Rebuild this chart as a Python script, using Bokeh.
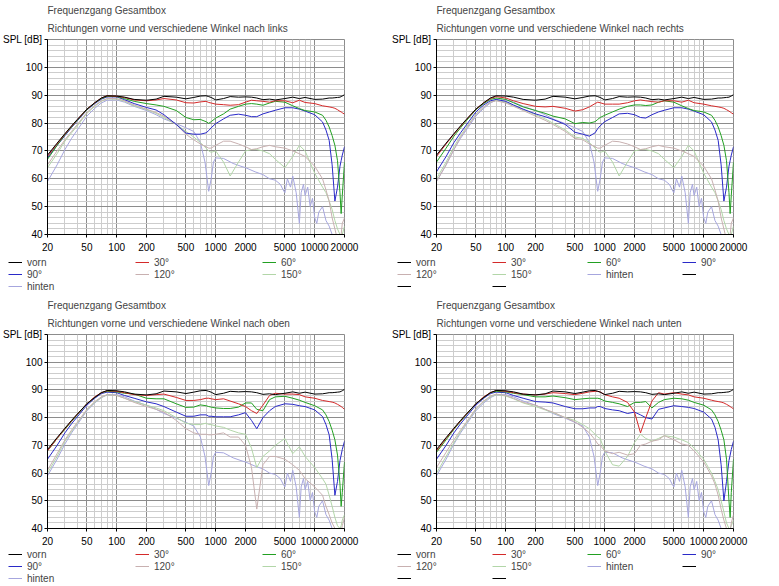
from bokeh.core.properties import value
from bokeh.embed import file_html
from bokeh.layouts import column, row
from bokeh.models import FixedTicker, Legend, LegendItem, PrintfTickFormatter, Title
from bokeh.plotting import figure
from bokeh.resources import INLINE

FONT = "Liberation Sans"
FS = "10px"

# measuring frequencies [Hz]
F = [20, 25, 30, 35, 40, 50, 60, 70, 80, 100,
     120, 150, 200, 250, 300, 400, 500, 600, 700, 800,
     850, 900, 1000, 1200, 1400, 1700, 2000, 2300, 2600, 3000,
     3500, 4000, 5000, 6000, 7000, 8000, 10000, 12000, 13000, 14000,
     15000, 16000, 17000, 18000, 18500, 19000, 20000]

F_HINTEN = [20, 25, 30, 35, 40, 50, 60, 70, 80, 100,
            120, 150, 200, 250, 300, 400, 500, 600, 700, 780,
            850, 900, 950, 1000, 1200, 1500, 1800, 2000, 2500, 3000,
            3500, 4000, 4500, 4800, 5000, 5300, 5700, 6000, 6500, 7000,
            7300, 7700, 8000, 8500, 9000, 9500, 10000, 10500, 11000, 12000,
            13000, 14000, 15000, 16000, 17000, 18000, 20000]

# SPL [dB], same for all four charts
VORN = [68.5, 72.8, 76.2, 79.0, 81.3, 85.0, 87.3, 89.0, 89.8, 89.7,
        89.3, 88.5, 88.2, 88.6, 89.6, 89.3, 88.7, 89.2, 89.7, 89.8,
        89.5, 89.2, 88.3, 88.8, 89.5, 89.3, 89.4, 89.3, 89.0, 88.4,
        88.6, 88.3, 88.8, 89.3, 88.8, 89.2, 88.5, 88.6, 88.8, 89.0,
        89.0, 89.1, 89.2, 89.3, 89.5, 89.7, 90.2]

HINTEN = [59, 65, 70.5, 74.5, 77.5, 82.5, 85.3, 87.2, 88.2, 88.3,
          87.5, 86, 84.5, 83, 81.5, 79.8, 78.3, 77, 73, 66,
          55.5, 60, 66, 67.5, 67.3, 65.5, 64.5, 64, 62.5, 61.5,
          60, 59.5, 58, 56, 55, 60, 57, 61, 55, 44,
          55, 58, 54, 57, 50, 53, 46, 44, 48, 50,
          45, 43, 40, 38, 36, 35, 35]

# nach links
LINKS_30 = [68, 72.5, 76, 78.8, 81.2, 85, 87.3, 89, 89.8, 89.6,
            89.2, 88.3, 88, 88.3, 88.8, 88.3, 87.3, 87.2, 87.6, 87.8,
            87.4, 87.2, 86.8, 86.6, 86.4, 86.6, 87.5, 88.2, 88, 87.8,
            87.5, 88, 88, 87.3, 88.2, 87.4, 87, 86.2, 86, 85.8,
            85.6, 85.3, 84.8, 84.2, 84, 83.7, 83.2]
LINKS_60 = [67, 72, 75.8, 78.6, 81, 84.8, 87.2, 88.8, 89.6, 89.5,
            88.8, 87.8, 87, 86.5, 86, 84.5, 82, 81.2, 81.3, 80.5,
            79.9, 80.5, 81.8, 83.3, 85, 86, 86.8, 87, 86.8, 86.4,
            87.2, 87.8, 87.5, 86.2, 85.2, 84.5, 84, 82.8, 81, 78.6,
            75.5, 72, 66.5, 55, 47.5, 54, 66]
LINKS_90 = [67.5, 72, 75.5, 78.4, 80.8, 84.7, 87, 88.6, 89.4, 89.4,
            88.4, 87, 85.6, 84.7, 83, 79.5, 76.4, 76, 76, 76.5,
            77.3, 78.3, 79.8, 81.5, 82.8, 83.2, 82.8, 82.3, 82.3, 83.3,
            84, 84.6, 85.5, 85.5, 85, 84.3, 83, 80.4, 77.5, 73.8,
            65, 52, 57, 64.5, 66.5, 68.5, 71.5]
LINKS_120 = [65, 70, 74, 77, 79.5, 83.8, 86.3, 88, 88.8, 88.8,
             88, 86.5, 85, 83.8, 82.5, 79.5, 76, 74, 72.5, 71.5,
             71, 71, 72, 73.5, 73.5, 72.5, 71.5, 70.5, 70.8, 71.5,
             72, 71.5, 71, 70, 69, 68, 64.5, 60, 56, 52,
             46, 42, 38, 37, 40, 44, 46]
LINKS_150 = [64, 69, 73.5, 76.5, 79, 83.5, 86, 87.8, 88.7, 88.6,
             87.8, 86.2, 84.8, 83.5, 82, 79.5, 77, 75, 73, 71,
             70, 69.5, 70, 66, 61, 66, 70, 70.5, 70.5, 70,
             69, 67, 64, 68, 72, 70, 62, 57, 55, 52,
             49, 45, 42, 40, 39, 40, 43]

# nach rechts
RECHTS_30 = [68, 72.5, 76, 78.8, 81.2, 85, 87.3, 88.8, 89.5, 89,
             88, 87, 86, 85.8, 86, 85.3, 84.3, 84.8, 85.8, 87,
             87.5, 87.3, 86.8, 86.8, 86.8, 87.3, 88, 88.3, 88, 87.7,
             87.5, 88, 88, 87.5, 88.2, 87.3, 86.8, 86.2, 86, 85.8,
             85.6, 85.3, 84.8, 84.3, 84, 83.7, 83.2]
RECHTS_60 = [66, 71, 75.3, 78.3, 80.8, 84.8, 87, 88.5, 89, 88.5,
             87.3, 85.8, 84.5, 83.5, 82.5, 81.5, 79.8, 80.2, 80, 80.5,
             81.3, 82, 82.8, 84, 85, 86, 86.5, 86.5, 86.3, 86.5,
             87.5, 88, 87.5, 86.2, 85.2, 84.5, 84, 82.8, 81, 78.6,
             75.5, 72, 66.5, 55, 47.5, 54, 66]
RECHTS_90 = [62.5, 68, 73, 76.5, 79.3, 84, 86.5, 88, 88.5, 87.8,
             86.5, 85, 83.3, 82.3, 81.3, 79.5, 76.7, 76, 75.3, 76.5,
             78, 79, 80.5, 82, 83.3, 83.5, 83, 82, 81.8, 83,
             84, 84.6, 85.5, 85.5, 85, 84.3, 83, 80.4, 77.5, 73.8,
             65, 52, 57, 64.5, 66.5, 68.5, 71.5]
RECHTS_120 = [59, 65, 70.5, 75, 78, 83, 85.8, 87.5, 88, 87.2,
              86, 84.5, 82.5, 81, 79.5, 77, 74.5, 74, 72.5, 71.5,
              71, 71, 72, 73.5, 73.3, 72.5, 71.5, 70.5, 70.8, 71.5,
              72, 71.5, 71, 70, 69, 68, 64.5, 60, 56, 52,
              46, 42, 38, 37, 40, 44, 46]
RECHTS_150 = [60, 66, 71.5, 75.5, 78.5, 83.2, 85.8, 87.5, 88.2, 87.5,
              86.3, 84.8, 83, 81.5, 80, 77.5, 75, 74.5, 73, 71,
              70, 69.5, 70, 66, 61, 66, 70, 70.5, 70.5, 70,
              69, 67, 64, 68, 72, 70, 62, 57, 55, 52,
              49, 45, 42, 40, 39, 40, 43]

# nach oben
OBEN_30 = [68, 72.5, 76, 78.8, 81.2, 85, 87.5, 89, 89.7, 89.5,
           89, 88.3, 88, 88.3, 88.5, 87.3, 86.2, 86.2, 86.5, 87,
           87, 86.8, 86.5, 86.8, 86, 85, 84, 82.5, 81.5, 84.5,
           88, 88.8, 88.5, 88.5, 88.3, 87.5, 87, 86.2, 86, 85.8,
           85.6, 85.3, 84.8, 84.3, 84, 83.7, 83]
OBEN_60 = [68, 72.5, 75.8, 78.6, 81, 85, 87.3, 89, 89.5, 89.3,
           88.8, 88.5, 87, 86.8, 86.8, 85, 83.7, 83.8, 84.6, 84.3,
           84, 83.8, 83.5, 83.3, 83.3, 83.8, 85.3, 85.3, 83, 82.5,
           86.5, 87.5, 87.7, 87, 86.3, 85.5, 84.3, 82.8, 81, 78.6,
           75.5, 72, 66.5, 56, 48, 53, 64]
OBEN_90 = [65, 70, 74.5, 77.8, 80.3, 84.5, 87, 88.7, 89.2, 89,
           88, 87, 85.7, 85, 84, 82, 80.5, 80.5, 81, 81,
           80.5, 80.5, 80.3, 80.3, 80.3, 81, 81.8, 79, 76, 80,
           82.5, 84, 85, 84.8, 84.3, 84, 82.8, 80.4, 77.5, 73.8,
           65, 52, 57, 64.5, 66.5, 68.5, 71.5]
OBEN_120 = [61, 67, 72, 75.5, 78.3, 83, 85.8, 87.5, 88.3, 88,
            87, 85.5, 84, 83, 82, 79, 76, 74.5, 74, 74,
            73.8, 73.8, 74, 74.5, 73, 73, 70, 62, 47, 63,
            66, 66, 65, 63, 61, 58, 55, 52, 48, 45,
            42, 40, 38, 37, 39, 41, 44]
OBEN_150 = [60, 66, 71.5, 75, 78, 82.8, 85.5, 87.3, 88.2, 88,
            87, 85.8, 84.5, 83.5, 82.5, 80, 78, 77.5, 77.5, 78,
            77.5, 77.5, 77, 76.5, 75.5, 74.5, 74, 69, 62, 66,
            68, 70, 72.5, 67, 69.5, 66, 62, 58, 56, 52,
            48, 44, 41, 40, 41, 43, 45]

# nach unten
UNTEN_30 = [68, 72.5, 76, 78.8, 81.2, 85, 87.5, 89, 89.8, 89.5,
            89, 88.5, 88.2, 88.5, 89, 88.7, 88.3, 88.8, 89.3, 89.5,
            89.5, 89.3, 88.3, 87.5, 87, 85.5, 82, 74.5, 80, 86,
            89, 88.5, 89, 88.5, 88.2, 87.5, 87, 86.3, 86, 85.8,
            85.6, 85.3, 84.8, 84.3, 84, 83.7, 83.2]
UNTEN_60 = [67.5, 72, 75.8, 78.6, 81, 85, 87.3, 89, 89.5, 89.3,
            88.8, 88.3, 87.5, 87.5, 87.8, 87.2, 86.5, 86.8, 87, 87,
            87, 86.8, 86, 85.5, 85, 84, 85.5, 85.5, 85.8, 83.5,
            85.5, 86.5, 87, 86.8, 86.3, 85.5, 84.5, 82.8, 81, 78.6,
            75.5, 72, 65, 50, 44, 53, 65]
UNTEN_90 = [65, 70, 74.5, 77.8, 80.3, 84.5, 87, 88.7, 89.2, 89,
            88, 87, 85.8, 85.6, 85.3, 84, 83.2, 83.2, 83.5, 83.5,
            84, 84, 83.3, 82.8, 82.5, 81.5, 82, 81, 80, 79.5,
            83, 83.5, 84.3, 84, 83.7, 83.3, 82, 79.5, 76.5, 72,
            63, 50, 57, 64.5, 66.5, 68.5, 71.5]
UNTEN_120 = [62, 67.5, 72, 75.5, 78.3, 83.3, 86, 87.8, 88.5, 88,
             87, 85.5, 84.5, 83, 82, 80, 78.5, 76.5, 74.5, 72,
             70.5, 70, 68, 67, 67.5, 66.5, 67, 70, 70.5, 71.5,
             72, 73.5, 72, 70.5, 70, 68, 64, 59, 56, 52,
             47, 43, 40, 38, 39, 42, 45]
UNTEN_150 = [60, 66, 71, 75, 78, 83, 85.8, 87.5, 88.3, 87.8,
             86.8, 85.3, 84, 82.8, 81.8, 80, 79, 77.5, 76, 74,
             73, 72.5, 68, 63, 62.5, 66, 71, 74, 72.5, 71.5,
             72.5, 73.5, 73, 72, 71, 69, 65, 60, 57, 54,
             50, 46, 42, 40, 40, 41, 43]

LABELS = ["vorn", "30°", "60°", "90°", "120°", "150°", "hinten"]
COLORS = ["#000000", "#d42a2a", "#22a022", "#2a2ac8", "#c8b0b0", "#b2d6a8", "#a6a6de"]

X_TICKS = [20, 50, 100, 200, 500, 1000, 2000, 5000, 10000, 20000]
X_MINOR = [30, 40, 60, 70, 80, 90, 300, 400, 600, 700, 800, 900,
           3000, 4000, 6000, 7000, 8000, 9000]
Y_TICKS = [40, 50, 60, 70, 80, 90, 100, 110]
Y_MINOR = [v for v in range(42, 110, 2) if v % 10]

HEADER = "Frequenzgang Gesamtbox"
W = 389


def make_chart(subtitle, curves, height, frame_h):
    p = figure(width=W, height=height, x_axis_type="log",
               x_range=(20, 20000), y_range=(40, 110),
               output_backend="svg", toolbar_location=None,
               min_border_left=46, min_border_right=W - 46 - 298,
               min_border_top=39, min_border_bottom=height - 39 - frame_h)
    p.outline_line_color = "#8c8c8c"

    p.title.text = HEADER
    p.title.text_font = FONT
    p.title.text_font_size = FS
    p.title.text_font_style = "normal"
    p.title.standoff = 0
    p.add_layout(Title(text=subtitle, text_font=FONT, text_font_size=FS,
                       text_font_style="normal", standoff=11), "above")

    p.xaxis.ticker = FixedTicker(ticks=X_TICKS, minor_ticks=X_MINOR)
    p.xaxis.formatter = PrintfTickFormatter(format="%d")
    p.yaxis.ticker = FixedTicker(ticks=Y_TICKS, minor_ticks=Y_MINOR)
    p.yaxis.major_label_overrides = {110: "SPL [dB]"}
    for ax in (p.xaxis, p.yaxis):
        ax.axis_line_color = "black"
        ax.major_tick_line_color = "black"
        ax.major_tick_out = 3
        ax.major_tick_in = 0
        ax.minor_tick_line_color = None
        ax.major_label_text_font = FONT
        ax.major_label_text_font_size = FS
        ax.major_label_text_color = "black"
    p.xaxis.major_label_standoff = 4
    p.yaxis.major_label_standoff = 1

    for g in (p.xgrid, p.ygrid):
        g.grid_line_color = "#8c8c8c"
        g.minor_grid_line_color = "#cdcdcd"

    # rear first, front response on top
    for i in reversed(range(len(curves))):
        fx, fy = curves[i]
        p.line(fx, fy, line_color=COLORS[i], line_width=1)
    return p


def make_legend(curves, ncols, label_width, blanks, height):
    # legend-only strip; its own lines fall outside the 0..1 ranges
    q = figure(width=W, height=height, x_range=(0, 1), y_range=(0, 1),
               output_backend="svg", toolbar_location=None,
               x_axis_location=None, y_axis_location=None, min_border=0)
    q.outline_line_color = None
    q.grid.visible = False

    items = []
    for (fx, fy), lab, col in zip(curves, LABELS, COLORS):
        r = q.line(fx, fy, line_color=col, line_width=1)
        items.append(LegendItem(label=value(lab), renderers=[r]))
    for _ in range(blanks):
        fx, fy = curves[0]
        r = q.line(fx, fy, line_color="black", line_width=1)
        items.append(LegendItem(label=value(" "), renderers=[r]))

    nrows = -(-len(items) // ncols)
    legend = Legend(items=items, orientation="horizontal", ncols=ncols,
                    location=(8, height - 12 * nrows), glyph_width=14, glyph_height=12,
                    label_height=12, label_width=label_width, label_standoff=5,
                    spacing=0, padding=0, margin=0,
                    border_line_color=None, background_fill_alpha=0,
                    label_text_font=FONT, label_text_font_size=FS)
    q.add_layout(legend, "center")
    return q


def curves_of(a30, a60, a90, a120, a150):
    return [(F, VORN), (F, a30), (F, a60), (F, a90), (F, a120), (F, a150), (F_HINTEN, HINTEN)]


c1 = curves_of(LINKS_30, LINKS_60, LINKS_90, LINKS_120, LINKS_150)
c2 = curves_of(RECHTS_30, RECHTS_60, RECHTS_90, RECHTS_120, RECHTS_150)
c3 = curves_of(OBEN_30, OBEN_60, OBEN_90, OBEN_120, OBEN_150)
c4 = curves_of(UNTEN_30, UNTEN_60, UNTEN_90, UNTEN_120, UNTEN_150)

p1 = make_chart("Richtungen vorne und verschiedene Winkel nach links", c1, 256, 195)
p2 = make_chart("Richtungen vorne und verschiedene Winkel nach rechts", c2, 256, 195)
p3 = make_chart("Richtungen vorne und verschiedene Winkel nach oben", c3, 253, 194)
p4 = make_chart("Richtungen vorne und verschiedene Winkel nach unten", c4, 253, 194)

l1 = make_legend(c1, 3, 108, 0, 39)
l2 = make_legend(c2, 4, 76, 3, 39)
l3 = make_legend(c3, 3, 108, 0, 37)
l4 = make_legend(c4, 4, 76, 3, 37)

page = column(row(p1, p2), row(l1, l2), row(p3, p4), row(l3, l4))

open("out.html", "w").write(file_html(page, INLINE))
